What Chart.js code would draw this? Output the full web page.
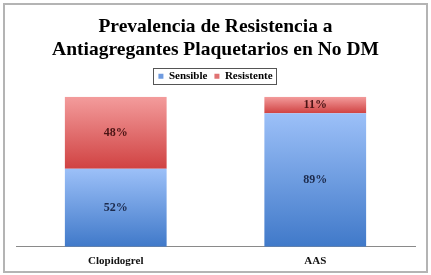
<!DOCTYPE html>
<html>
<head>
<meta charset="utf-8">
<script src="https://cdn.jsdelivr.net/npm/chart.js@4"></script>
<style>
  html, body { margin: 0; padding: 0; background: #fff; }
  #frame { position: absolute; left: 3px; top: 3px; width: 421px; height: 266px; border: 2px solid #b4b4b4; }
  #wrap { position: absolute; left: 0; top: 0; width: 431px; height: 275px; }
</style>
</head>
<body>
<div id="frame"></div>
<div id="wrap"><canvas id="c" width="431" height="275"></canvas></div>
<script>
// ── Data ─────────────────────────────────────────────────────────
const categories = ['Clopidogrel', 'AAS'];
const sensible = [52, 89];
const resistente = [48, 11];
const titleLines = ['Prevalencia de Resistencia a', 'Antiagregantes Plaquetarios en No DM'];

const SERIF = "'Liberation Serif', 'DejaVu Serif', serif";

// vertical gradient for each stacked segment, light on top, darker below
function segmentGradient(light, dark, lowValues) {
    return (ctx) => {
        const chart = ctx.chart;
        const { chartArea } = chart;
        if (!chartArea || ctx.type !== 'data') return dark;
        const y = chart.scales.y;
        const i = ctx.dataIndex;
        const low = lowValues ? lowValues[i] : 0;
        const high = low + ctx.dataset.data[i];
        const top = y.getPixelForValue(high);
        const bottom = y.getPixelForValue(low);
        const g = chart.ctx.createLinearGradient(0, top, 0, bottom);
        g.addColorStop(0, light);
        g.addColorStop(1, dark);
        return g;
    };
}

// ── Plugins ──────────────────────────────────────────────────────
const valueLabels = {
    id: 'valueLabels',
    afterDatasetsDraw(chart) {
        const ctx = chart.ctx;
        const colors = ['#1c2a4c', '#4a1414'];
        ctx.save();
        ctx.font = `bold 12px ${SERIF}`;
        ctx.textAlign = 'center';
        ctx.textBaseline = 'middle';
        chart.data.datasets.forEach((ds, di) => {
            const meta = chart.getDatasetMeta(di);
            meta.data.forEach((bar, i) => {
                const { x, y, base } = bar.getProps(['x', 'y', 'base'], true);
                ctx.fillStyle = colors[di];
                ctx.fillText(ds.data[i] + '%', x, (y + base) / 2);
            });
        });
        ctx.restore();
    },
};

// framed legend, with some extra room below it
const legendBox = {
    id: 'legendBox',
    beforeInit(chart) {
        const fit = chart.legend.fit;
        chart.legend.fit = function () {
            fit.call(this);
            this.height += 5;
        };
    },
    afterDraw(chart) {
        const boxes = chart.legend.legendHitBoxes;
        if (!boxes || !boxes.length) return;
        const left = Math.min(...boxes.map(b => b.left));
        const right = Math.max(...boxes.map(b => b.left + b.width));
        const top = Math.min(...boxes.map(b => b.top));
        const bottom = Math.max(...boxes.map(b => b.top + b.height));
        const ctx = chart.ctx;
        ctx.save();
        ctx.strokeStyle = '#555';
        ctx.lineWidth = 1;
        ctx.strokeRect(Math.round(left - 5) + 0.5, Math.round(top - 3) + 0.5,
            Math.round(right - left + 9), Math.round(bottom - top + 5));
        ctx.restore();
    },
};

// ── Chart ────────────────────────────────────────────────────────
new Chart(document.getElementById('c'), {
    type: 'bar',
    plugins: [valueLabels, legendBox],
    data: {
        labels: categories,
        datasets: [
            {
                label: 'Sensible',
                data: sensible,
                backgroundColor: segmentGradient('#9cc0f8', '#4079c9', null),
                borderWidth: 0,
            },
            {
                label: 'Resistente',
                data: resistente,
                backgroundColor: segmentGradient('#f39c9c', '#d04242', sensible),
                borderWidth: 0,
            },
        ],
    },
    options: {
        responsive: false,
        animation: false,
        layout: { padding: { left: 16, right: 16, bottom: 7, top: 0 } },
        datasets: { bar: { categoryPercentage: 1, barPercentage: 0.51 } },
        plugins: {
            title: {
                display: true,
                text: titleLines,
                color: '#000',
                font: { family: SERIF, size: 19.5, weight: 'bold', lineHeight: 1.2 },
                padding: { top: 15, bottom: 2 },
            },
            legend: {
                display: true,
                position: 'top',
                labels: {
                    color: '#111',
                    font: { family: SERIF, size: 11, weight: 'bold' },
                    boxWidth: 5,
                    boxHeight: 5,
                    padding: 7,
                    generateLabels(chart) {
                        const fills = ['#6f9be0', '#e07272'];
                        return chart.data.datasets.map((ds, i) => ({
                            text: ds.label,
                            fillStyle: fills[i],
                            strokeStyle: fills[i],
                            lineWidth: 0,
                            datasetIndex: i,
                        }));
                    },
                },
            },
            tooltip: { enabled: false },
        },
        scales: {
            x: {
                stacked: true,
                grid: { display: false },
                border: { display: true, color: '#8a8a8a', width: 1 },
                ticks: { color: '#111', font: { family: SERIF, size: 11, weight: 'bold' }, padding: 0 },
            },
            y: {
                stacked: true,
                display: false,
                min: 0,
                max: 100,
            },
        },
    },
});
</script>
</body>
</html>
